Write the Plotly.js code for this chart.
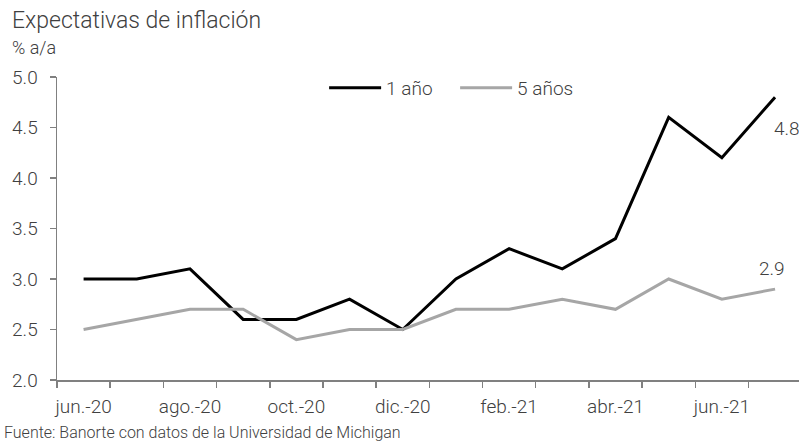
<!DOCTYPE html>
<html>
<head>
<meta charset="utf-8">
<script src="https://cdn.plot.ly/plotly-3.0.1.min.js"></script>
<style>html,body{margin:0;padding:0;background:#fff;}#chart{width:799px;height:442px;}</style>
</head>
<body>
<div id="chart"></div>
<script>
const months = ['jun.-20','jul.-20','ago.-20','sep.-20','oct.-20','nov.-20','dic.-20','ene.-21','feb.-21','mar.-21','abr.-21','may.-21','jun.-21','jul.-21'];
const unAno = [3.0,3.0,3.1,2.6,2.6,2.8,2.5,3.0,3.3,3.1,3.4,4.6,4.2,4.8];
const cincoAnos = [2.5,2.6,2.7,2.7,2.4,2.5,2.5,2.7,2.7,2.8,2.7,3.0,2.8,2.9];
const tickLabels = months.map((m,i)=> i%2===0 ? m : '');
const yTicks = [2.0,2.5,3.0,3.5,4.0,4.5,5.0];

const FONT = 'Roboto, sans-serif';
const W = 300;
const TXT = '#404040';
const last = months.length - 1;

const traces = [
  {x: months, y: unAno, name: '1 año', mode: 'lines', line: {color: '#000000', width: 3}},
  {x: months, y: cincoAnos, name: '5 años', mode: 'lines', line: {color: '#A6A6A6', width: 3}}
];

const f = (s) => ({family: FONT, size: s, color: TXT, weight: W});

const layout = {
  width: 799, height: 442,
  margin: {l: 57, r: 0, t: 77, b: 62},
  paper_bgcolor: '#fff', plot_bgcolor: '#fff',
  font: f(18),
  showlegend: true,
  legend: {orientation: 'h', x: 0.36, xanchor: 'left', y: 0.964, yanchor: 'middle',
           font: f(19), bgcolor: 'rgba(0,0,0,0)', itemwidth: 52, entrywidth: 64, entrywidthmode: 'pixels'},
  xaxis: {type: 'category', range: [-0.5, 13.45], tickson: 'boundaries',
          tickvals: months, ticktext: tickLabels, tickangle: 0,
          ticks: 'outside', ticklen: 6, tickcolor: '#808080', tickwidth: 1.5,
          showline: true, linecolor: '#808080', linewidth: 1.5, showgrid: false, zeroline: false,
          tickfont: f(19), ticklabelstandoff: 9},
  yaxis: {range: [2.0, 5.0], tickvals: yTicks, ticktext: yTicks.map(v=>v.toFixed(1)),
          ticks: 'outside', ticklen: 6, tickcolor: '#808080', tickwidth: 1.5,
          showline: true, linecolor: '#808080', linewidth: 1.5, showgrid: false, zeroline: false,
          tickfont: f(19), ticklabelstandoff: 8},
  annotations: [
    {xref: 'paper', yref: 'paper', x: -0.063, y: 1.188, xanchor: 'left', yanchor: 'middle',
     text: 'Expectativas de inflación', showarrow: false, font: f(23)},
    {xref: 'paper', yref: 'paper', x: -0.063, y: 1.099, xanchor: 'left', yanchor: 'middle',
     text: '% a/a', showarrow: false, font: f(18)},
    {xref: 'paper', yref: 'paper', x: -0.074, y: -0.172, xanchor: 'left', yanchor: 'middle',
     text: 'Fuente: Banorte con datos de la Universidad de Michigan', showarrow: false,
     font: f(16)},
    {x: months[last], y: unAno[last], xanchor: 'left', yanchor: 'top', xshift: -3, yshift: -18,
     text: unAno[last].toFixed(1), showarrow: false, font: f(19)},
    {x: months[last], y: cincoAnos[last], xanchor: 'center', yanchor: 'bottom', xshift: -3, yshift: 7,
     text: cincoAnos[last].toFixed(1), showarrow: false, font: f(19)}
  ]
};

Plotly.newPlot('chart', traces, layout, {displayModeBar: false, staticPlot: true});
</script>
</body>
</html>
